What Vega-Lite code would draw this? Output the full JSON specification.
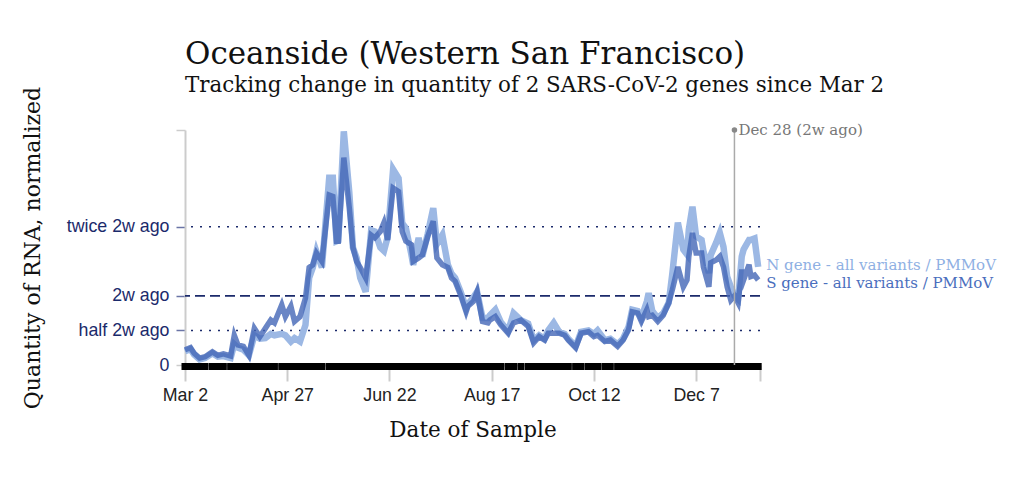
{
  "$schema": "https://vega.github.io/schema/vega-lite/v6.json",
  "width": 575,
  "height": 235,
  "autosize": "none",
  "padding": {"left": 185, "top": 130, "right": 268, "bottom": 123},
  "background": "white",
  "title": {
    "text": "Oceanside (Western San Francisco)",
    "subtitle": "Tracking change in quantity of 2 SARS-CoV-2 genes since Mar 2",
    "anchor": "start",
    "frame": "group",
    "font": "DejaVu Serif",
    "fontSize": 31,
    "fontWeight": "normal",
    "color": "#111",
    "subtitleFont": "DejaVu Serif",
    "subtitleFontSize": 21.4,
    "subtitleColor": "#111",
    "subtitlePadding": 4,
    "offset": -11
  },
  "config": {
    "view": {"stroke": null},
    "axis": {"grid": false}
  },
  "datasets": {
    "samples": [
      {"date": "2023/03/02", "S": 0.22, "N": 0.20},
      {"date": "2023/03/05", "S": 0.25, "N": 0.23},
      {"date": "2023/03/07", "S": 0.17, "N": 0.15},
      {"date": "2023/03/10", "S": 0.10, "N": 0.08},
      {"date": "2023/03/13", "S": 0.12, "N": 0.10},
      {"date": "2023/03/17", "S": 0.19, "N": 0.17},
      {"date": "2023/03/20", "S": 0.14, "N": 0.12},
      {"date": "2023/03/23", "S": 0.16, "N": 0.13},
      {"date": "2023/03/27", "S": 0.13, "N": 0.10},
      {"date": "2023/03/29", "S": 0.43, "N": 0.30},
      {"date": "2023/03/31", "S": 0.29, "N": 0.25},
      {"date": "2023/04/03", "S": 0.27, "N": 0.22},
      {"date": "2023/04/06", "S": 0.14, "N": 0.14},
      {"date": "2023/04/09", "S": 0.53, "N": 0.43},
      {"date": "2023/04/12", "S": 0.41, "N": 0.38},
      {"date": "2023/04/15", "S": 0.53, "N": 0.39},
      {"date": "2023/04/18", "S": 0.65, "N": 0.45},
      {"date": "2023/04/20", "S": 0.61, "N": 0.43},
      {"date": "2023/04/24", "S": 0.87, "N": 0.45},
      {"date": "2023/04/26", "S": 0.70, "N": 0.43},
      {"date": "2023/04/29", "S": 0.85, "N": 0.34},
      {"date": "2023/05/01", "S": 0.63, "N": 0.39},
      {"date": "2023/05/04", "S": 0.70, "N": 0.34},
      {"date": "2023/05/07", "S": 0.97, "N": 0.58},
      {"date": "2023/05/09", "S": 1.41, "N": 1.26},
      {"date": "2023/05/11", "S": 1.45, "N": 1.41},
      {"date": "2023/05/13", "S": 1.62, "N": 1.64},
      {"date": "2023/05/16", "S": 1.50, "N": 1.41},
      {"date": "2023/05/20", "S": 2.46, "N": 2.71},
      {"date": "2023/05/22", "S": 2.44, "N": 2.71},
      {"date": "2023/05/24", "S": 1.79, "N": 1.79},
      {"date": "2023/05/25", "S": 1.79, "N": 1.80},
      {"date": "2023/05/28", "S": 3.00, "N": 3.38},
      {"date": "2023/05/31", "S": 2.27, "N": 2.50},
      {"date": "2023/06/02", "S": 1.70, "N": 1.70},
      {"date": "2023/06/04", "S": 1.50, "N": 1.55},
      {"date": "2023/06/06", "S": 1.41, "N": 1.26},
      {"date": "2023/06/09", "S": 1.26, "N": 1.06},
      {"date": "2023/06/12", "S": 1.88, "N": 1.95},
      {"date": "2023/06/14", "S": 1.84, "N": 1.93},
      {"date": "2023/06/17", "S": 1.93, "N": 1.70},
      {"date": "2023/06/19", "S": 2.06, "N": 1.65},
      {"date": "2023/06/21", "S": 1.81, "N": 1.85},
      {"date": "2023/06/24", "S": 2.56, "N": 2.83},
      {"date": "2023/06/27", "S": 2.51, "N": 2.70},
      {"date": "2023/06/29", "S": 1.93, "N": 2.05},
      {"date": "2023/07/01", "S": 1.79, "N": 1.98},
      {"date": "2023/07/04", "S": 1.74, "N": 1.60},
      {"date": "2023/07/05", "S": 1.50, "N": 1.45},
      {"date": "2023/07/08", "S": 1.55, "N": 1.84},
      {"date": "2023/07/10", "S": 1.59, "N": 1.57},
      {"date": "2023/07/13", "S": 1.86, "N": 1.90},
      {"date": "2023/07/16", "S": 2.08, "N": 2.27},
      {"date": "2023/07/18", "S": 1.55, "N": 1.75},
      {"date": "2023/07/21", "S": 1.45, "N": 1.88},
      {"date": "2023/07/24", "S": 1.41, "N": 1.45},
      {"date": "2023/07/26", "S": 1.26, "N": 1.32},
      {"date": "2023/07/28", "S": 1.21, "N": 1.26},
      {"date": "2023/07/31", "S": 1.01, "N": 1.06},
      {"date": "2023/08/03", "S": 0.77, "N": 0.82},
      {"date": "2023/08/04", "S": 0.85, "N": 0.88},
      {"date": "2023/08/07", "S": 0.92, "N": 0.98},
      {"date": "2023/08/09", "S": 1.06, "N": 1.06},
      {"date": "2023/08/12", "S": 0.63, "N": 0.68},
      {"date": "2023/08/15", "S": 0.61, "N": 0.68},
      {"date": "2023/08/16", "S": 0.65, "N": 0.72},
      {"date": "2023/08/19", "S": 0.70, "N": 0.80},
      {"date": "2023/08/22", "S": 0.58, "N": 0.62},
      {"date": "2023/08/26", "S": 0.46, "N": 0.49},
      {"date": "2023/08/29", "S": 0.61, "N": 0.75},
      {"date": "2023/09/02", "S": 0.65, "N": 0.65},
      {"date": "2023/09/06", "S": 0.56, "N": 0.60},
      {"date": "2023/09/09", "S": 0.32, "N": 0.36},
      {"date": "2023/09/12", "S": 0.41, "N": 0.43},
      {"date": "2023/09/15", "S": 0.36, "N": 0.38},
      {"date": "2023/09/17", "S": 0.46, "N": 0.50},
      {"date": "2023/09/20", "S": 0.46, "N": 0.61},
      {"date": "2023/09/23", "S": 0.46, "N": 0.48},
      {"date": "2023/09/26", "S": 0.43, "N": 0.45},
      {"date": "2023/09/28", "S": 0.36, "N": 0.38},
      {"date": "2023/10/02", "S": 0.25, "N": 0.27},
      {"date": "2023/10/05", "S": 0.46, "N": 0.48},
      {"date": "2023/10/09", "S": 0.48, "N": 0.50},
      {"date": "2023/10/12", "S": 0.41, "N": 0.45},
      {"date": "2023/10/14", "S": 0.43, "N": 0.50},
      {"date": "2023/10/18", "S": 0.34, "N": 0.36},
      {"date": "2023/10/21", "S": 0.36, "N": 0.38},
      {"date": "2023/10/25", "S": 0.27, "N": 0.30},
      {"date": "2023/10/28", "S": 0.36, "N": 0.38},
      {"date": "2023/10/31", "S": 0.51, "N": 0.55},
      {"date": "2023/11/02", "S": 0.77, "N": 0.80},
      {"date": "2023/11/05", "S": 0.75, "N": 0.78},
      {"date": "2023/11/07", "S": 0.63, "N": 0.68},
      {"date": "2023/11/10", "S": 0.80, "N": 0.92},
      {"date": "2023/11/11", "S": 0.70, "N": 1.04},
      {"date": "2023/11/13", "S": 0.72, "N": 0.78},
      {"date": "2023/11/16", "S": 0.63, "N": 0.68},
      {"date": "2023/11/19", "S": 0.72, "N": 0.75},
      {"date": "2023/11/22", "S": 0.90, "N": 0.90},
      {"date": "2023/11/24", "S": 1.09, "N": 1.33},
      {"date": "2023/11/27", "S": 1.42, "N": 2.06},
      {"date": "2023/11/30", "S": 1.13, "N": 1.67},
      {"date": "2023/12/02", "S": 1.23, "N": 1.60},
      {"date": "2023/12/03", "S": 1.57, "N": 1.96},
      {"date": "2023/12/05", "S": 1.91, "N": 2.29},
      {"date": "2023/12/07", "S": 1.62, "N": 1.86},
      {"date": "2023/12/10", "S": 1.62, "N": 1.81},
      {"date": "2023/12/11", "S": 1.42, "N": 1.65},
      {"date": "2023/12/14", "S": 1.13, "N": 1.33},
      {"date": "2023/12/15", "S": 1.48, "N": 1.59},
      {"date": "2023/12/18", "S": 1.52, "N": 1.77},
      {"date": "2023/12/20", "S": 1.57, "N": 1.91},
      {"date": "2023/12/22", "S": 1.42, "N": 1.71},
      {"date": "2023/12/24", "S": 1.13, "N": 1.28},
      {"date": "2023/12/26", "S": 0.94, "N": 1.13},
      {"date": "2023/12/28", "S": 1.00, "N": 1.00},
      {"date": "2023/12/30", "S": 0.90, "N": 0.95},
      {"date": "2024/01/01", "S": 1.38, "N": 1.57},
      {"date": "2024/01/02", "S": 1.23, "N": 1.67},
      {"date": "2024/01/05", "S": 1.45, "N": 1.81},
      {"date": "2024/01/06", "S": 1.28, "N": 1.81},
      {"date": "2024/01/08", "S": 1.30, "N": 1.83},
      {"date": "2024/01/10", "S": 1.23, "N": 1.42}
    ]
  },
  "layer": [
    {
      "data": {"values": [
        {"level": 0.5, "kind": "dot"},
        {"level": 1, "kind": "dash"},
        {"level": 2, "kind": "dot"}
      ]},
      "mark": {"type": "rule", "color": "#1b2a6b", "strokeWidth": 1.6},
      "encoding": {
        "y": {"field": "level", "type": "quantitative"},
        "strokeDash": {
          "field": "kind",
          "type": "nominal",
          "scale": {"domain": ["dot", "dash"], "range": [[2, 7], [10, 5]]},
          "legend": null
        }
      }
    },
    {
      "data": {"name": "samples"},
      "mark": {"type": "tick", "color": "black", "orient": "vertical", "thickness": 7, "size": 7, "yOffset": 1.5, "opacity": 1},
      "encoding": {
        "x": {
          "field": "date",
          "type": "temporal",
          "title": "Date of Sample",
          "scale": {"domain": [{"year": 2023, "month": 3, "date": 2}, {"year": 2024, "month": 1, "date": 11}]},
          "axis": {
            "values": [
              {"year": 2023, "month": 3, "date": 2},
              {"year": 2023, "month": 4, "date": 27},
              {"year": 2023, "month": 6, "date": 22},
              {"year": 2023, "month": 8, "date": 17},
              {"year": 2023, "month": 10, "date": 12},
              {"year": 2023, "month": 12, "date": 7},
              {"year": 2024, "month": 1, "date": 11}
            ],
            "format": "%b %-d",
            "labelExpr": "month(datum.value) == 0 ? '' : datum.label",
            "labelFlush": false,
            "domainColor": "#cccccc",
            "domainWidth": 2,
            "tickColor": "#cccccc",
            "tickWidth": 2,
            "tickSize": 16,
            "labelFont": "Liberation Sans",
            "labelFontSize": 17.8,
            "labelColor": "#222222",
            "labelPadding": 5,
            "titleFont": "DejaVu Serif",
            "titleFontSize": 21.5,
            "titleFontWeight": "normal",
            "titleColor": "#111111",
            "titlePadding": 16
          }
        },
        "y": {"datum": 0, "type": "quantitative"}
      }
    },
    {
      "data": {"name": "samples"},
      "mark": {"type": "line", "color": "#9cb8e4", "strokeWidth": 6.5},
      "encoding": {
        "x": {"field": "date", "type": "temporal"},
        "y": {
          "field": "N",
          "type": "quantitative",
          "title": "Quantity of RNA, normalized",
          "scale": {"domain": [0, 3.4], "nice": false},
          "axis": {
            "values": [0, 0.5, 1, 2, 3.4],
            "labelExpr": "datum.value == 0 ? '0' : datum.value == 0.5 ? 'half 2w ago' : datum.value == 1 ? '2w ago' : datum.value == 2 ? 'twice 2w ago' : ''",
            "domainColor": "#cccccc",
            "domainWidth": 2,
            "tickColor": {"condition": {"test": "datum.value == 0 || datum.value > 3", "value": "#cccccc"}, "value": "#6a74a6"},
            "tickWidth": 1.5,
            "tickSize": 9,
            "labelFont": "Liberation Sans",
            "labelFontSize": 17.8,
            "labelColor": "#1b2a6b",
            "labelPadding": 7,
            "titleFont": "DejaVu Serif",
            "titleFontSize": 22,
            "titleFontWeight": "normal",
            "titleColor": "#111111",
            "titlePadding": 22
          }
        }
      }
    },
    {
      "data": {"name": "samples"},
      "mark": {"type": "line", "color": "#4367b7", "opacity": 0.8, "strokeWidth": 5.5},
      "encoding": {
        "x": {"field": "date", "type": "temporal"},
        "y": {"field": "S", "type": "quantitative"}
      }
    },
    {
      "data": {"values": [{"date": "2023/12/28", "top": 3.4, "label": "Dec 28 (2w ago)"}]},
      "layer": [
        {
          "mark": {"type": "rule", "color": "#aaaaaa", "strokeWidth": 1.5},
          "encoding": {"x": {"field": "date", "type": "temporal"}}
        },
        {
          "mark": {"type": "point", "filled": true, "color": "#888888", "size": 30, "opacity": 1},
          "encoding": {
            "x": {"field": "date", "type": "temporal"},
            "y": {"field": "top", "type": "quantitative"}
          }
        },
        {
          "mark": {"type": "text", "align": "left", "dx": 4, "font": "DejaVu Serif", "fontSize": 15, "color": "#777777"},
          "encoding": {
            "x": {"field": "date", "type": "temporal"},
            "y": {"field": "top", "type": "quantitative"},
            "text": {"field": "label"}
          }
        }
      ]
    },
    {
      "data": {"values": [
        {"date": "2024/01/10", "v": 1.45, "gene": "N", "label": "N gene - all variants / PMMoV"},
        {"date": "2024/01/10", "v": 1.19, "gene": "S", "label": "S gene - all variants / PMMoV"}
      ]},
      "mark": {"type": "text", "align": "left", "dx": 8, "font": "DejaVu Serif", "fontSize": 15},
      "encoding": {
        "x": {"field": "date", "type": "temporal"},
        "y": {"field": "v", "type": "quantitative"},
        "text": {"field": "label"},
        "color": {
          "field": "gene",
          "type": "nominal",
          "scale": {"domain": ["N", "S"], "range": ["#8fb0e3", "#4a6ebd"]},
          "legend": null
        }
      }
    }
  ]
}
